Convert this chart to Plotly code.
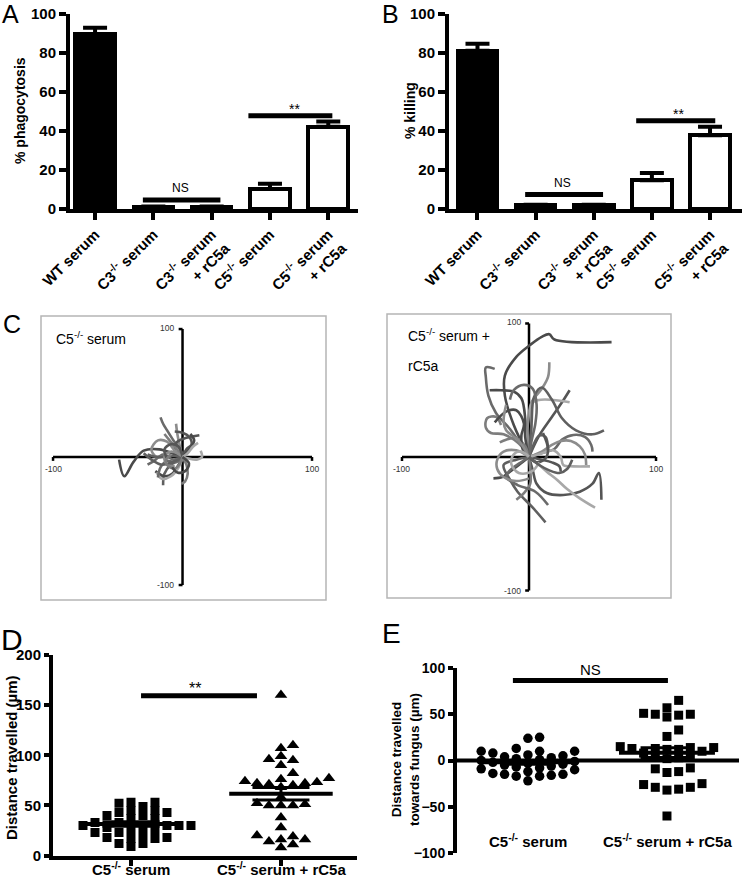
import numpy as np
import plotly.graph_objects as go

W, H = 742, 878
FONT = "Liberation Sans"

# ---------------- data ----------------
ab_labels = ["WT serum", "C3<sup>-/-</sup> serum", "C3<sup>-/-</sup> serum<br>+ rC5a",
             "C5<sup>-/-</sup> serum", "C5<sup>-/-</sup> serum<br>+ rC5a"]
phago_mean = [89.5, 1.0, 1.0, 10.3, 42.2]
phago_sem = [3.5, 0.3, 0.3, 2.6, 2.7]
kill_mean = [81.2, 1.8, 1.8, 14.8, 37.8]
kill_sem = [3.6, 0.4, 0.4, 3.6, 4.4]

c5_tracks = [
    [(0, 0), (-8, 3), (-18, 6), (-30, 5), (-38, -4), (-45, -15), (-49, -2)],
    [(0, 0), (-2, 6), (-7, 13), (-12, 21), (-15, 26), (-17, 31)],
    [(0, 0), (-2, 8), (-4, 18), (-5, 26)],
    [(0, 0), (-6, 5), (-4, 12), (3, 15), (13, 17)],
    [(0, 0), (4, -1), (11, -2), (15, 0), (14, 5)],
    [(0, 0), (-4, -3), (-9, -6), (-14, -13), (-15, -22)],
    [(0, 0), (3, -6), (4, -13), (2, -19), (-1, -21)],
    [(0, 0), (-3, -6), (-8, -13), (-14, -15), (-21, -11)],
    [(0, 0), (-7, -2), (-15, 2), (-22, -3), (-27, -6)],
    [(0, 0), (-6, 5), (-12, 12), (-19, 13), (-24, 6), (-20, 0), (-12, 2)],
    [(0, 0), (3, 6), (7, 10), (5, 16), (0, 19), (-6, 20)],
    [(0, 0), (-3, -8), (-9, -15), (-16, -17), (-20, -12)],
    [(0, 0), (-10, 1), (-20, 0), (-27, 2)],
    [(0, 0), (-5, 7), (-10, 13), (-14, 18)],
    [(0, 0), (6, 7), (9, 13), (6, 18)],
    [(0, 0), (-5, -4), (-12, -3), (-17, -8), (-19, -16)],
    [(0, 0), (-4, 3), (-10, 4), (-14, 0), (-12, -6), (-6, -7)],
    [(0, 0), (-3, 8), (-9, 10), (-14, 6), (-12, -1)],
    [(0, 0), (4, 3), (8, 8), (12, 11)],
    [(0, 0), (-8, -4), (-16, -6), (-24, -2), (-30, 3)],
    [(0, 0), (-2, -5), (-6, -9), (-11, -7), (-13, -3), (-9, 2)],
    [(0, 0), (5, -5), (2, -11), (-4, -12), (-8, -8)],
]

rc5a_tracks = [
    [(0, 0), (-12, 24), (-19, 46), (-19, 61), (-10, 75), (1, 84), (10, 90), (16, 92), (20, 88), (65, 86)],
    [(0, 0), (-15, 21), (-26, 33), (-32, 46), (-34, 60), (-34, 67), (-27, 66)],
    [(0, 0), (-1, 24), (2, 41), (10, 51), (15, 60), (16, 71)],
    [(0, 0), (8, 16), (18, 30), (26, 41), (32, 50)],
    [(0, 0), (2, 20), (3, 41), (32, 41)],
    [(0, 0), (2, 25), (4, 45), (10, 52), (18, 43), (26, 29), (37, 20), (50, 17), (59, 20)],
    [(0, 0), (-8, 10), (-20, 17), (-30, 18), (-34, 22), (-33, 29), (-26, 30), (-22, 24)],
    [(0, 0), (-3, 15), (-3, 29), (-6, 44), (-12, 49), (-22, 50), (-31, 50)],
    [(0, 0), (10, 3), (20, 6), (26, 13), (35, 16.5), (44, 15), (49, 9), (50, 4)],
    [(0, 0), (10, 4), (18, 9), (25, 12), (33, 12), (40, 8), (44, 2), (45, -6)],
    [(0, 0), (3, -10), (6, -20), (14, -27), (27, -28.5), (40, -26), (50, -20), (55, -12), (57, -32)],
    [(0, 0), (7, -5), (14, -11), (22, -17), (30, -24), (40, -31), (52, -38)],
    [(0, 0), (-10, -2), (-20, -6), (-15, -17), (-9, -26), (3, -38), (13, -49)],
    [(0, 0), (1, -10), (1, -20), (-4, -27), (-10, -32)],
    [(0, 0), (-8, -6), (-15, -11), (-21, -15), (-28, -16)],
    [(0, 0), (-8, -5), (-15, -10), (-18, -15), (-9, -21), (5, -26), (15, -36)],
    [(0, 0), (-10, 5), (-20, 4), (-25, -2), (-25, -9), (-20, -15), (-10, -18), (0, -16)],
    [(0, 0), (10, -2), (18, -4), (24, -7), (25, -11)],
    [(0, 0), (8, 2), (19, 5), (25, 0), (27, -6), (35, -7), (48, -7)],
    [(0, 0), (3, 8), (8, 16), (13, 15), (15, 5)],
    [(0, 0), (-3, 8), (-10, 14), (-18, 13), (-23, 11)],
    [(0, 0), (-5, 6), (-6, 16), (-4, 25), (-10, 35), (-18, 34), (-27, 26)],
    [(0, 0), (2, 12), (5, 25), (6, 39), (3, 51), (-4, 54), (-12, 50), (-15, 43)],
    [(0, 0), (-8, 12), (-18, 20), (-20, 27), (-18, 39)],
    [(0, 0), (6, -4), (13, -1), (15, 6), (11, 18)],
    [(0, 0), (-6, 4), (-12, 2), (-14, -5), (-8, -12), (2, -11), (8, -4)],
    [(0, 0), (8, -6), (16, -10), (24, -12), (30, -9), (34, -2)],
]

de_labels = ["C5<sup>-/-</sup> serum", "C5<sup>-/-</sup> serum + rC5a"]
dist_c5 = [53, 53, 52, 49, 45, 45, 43, 43, 40, 40, 37, 37, 33, 33, 30, 30, 30, 30, 30,
           28, 26, 26, 23, 23, 21, 18, 18, 17, 17, 12, 12, 9]
dist_rc5a = [160, 110, 107, 99, 96, 95, 90, 82, 77, 76, 74, 73, 72, 72, 71, 70, 68, 58,
             52, 51, 50, 50, 50, 38, 28, 20, 19, 16, 16, 14, 11, 8]
towards_c5 = [25, 24, 13, 10, 10, 10, 8, 6, 5, 4, 3, 2, 1, 0, -1, -2, -3, -4, -5, -6, -7,
              -8, -9, -10, -12, -14, -15, -15, -16, -17, -17, -22]
towards_rc5a = [65, 57, 50, 49, 47, 50, 51, 33, 26, 15, 14, 14, 13, 13, 12, 12, 10, 8, 5,
                4, 3, 2, -9, -13, -12, -8, -25, -29, -31, -32, -29, -26, -60]

# ---------------- helpers ----------------
def fx(p):
    return p / W


def fy(p):
    return 1 - p / H


def swarm(vals, px_per_unit, step, min_sep=7.5):
    order = np.argsort(vals, kind="stable")
    ks = [0] * len(vals)
    placed = {}
    cand = [0, 1, -1, 2, -2, 3, -3, 4, -4, 5, -5, 6, -6]
    for i in order:
        yp = vals[i] * px_per_unit
        for k in cand:
            if all(abs(yp - q) >= min_sep for q in placed.get(k, [])):
                placed.setdefault(k, []).append(yp)
                ks[i] = k
                break
    return np.array(ks) * step


fig = go.Figure()

# ---------------- A & B bars ----------------
bar_colors = ["black", "white", "white", "white", "white"]
for means, sems, xa, ya in [(phago_mean, phago_sem, "x", "y"), (kill_mean, kill_sem, "x2", "y2")]:
    fig.add_trace(go.Bar(
        x=list(range(len(means))), y=means, width=0.68,
        marker=dict(color=bar_colors, line=dict(color="black", width=4)),
        error_y=dict(type="data", array=sems, arrayminus=[0] * len(sems), symmetric=False,
                     thickness=4, width=12, color="black"),
        xaxis=xa, yaxis=ya, hoverinfo="skip"))

# ---------------- C tracks ----------------
track_grays = ["#4a4a4a", "#6a6a6a", "#8c8c8c", "#555555", "#a8a8a8", "#5f5f5f", "#7d7d7d"]
for tracks, xa, ya in [(c5_tracks, "x3", "y3"), (rc5a_tracks, "x4", "y4")]:
    for i, tr in enumerate(tracks):
        fig.add_trace(go.Scatter(
            x=[p[0] for p in tr], y=[p[1] for p in tr], mode="lines",
            line=dict(color=track_grays[i % len(track_grays)], width=2.6, shape="spline", smoothing=1.0),
            xaxis=xa, yaxis=ya, hoverinfo="skip"))

# ---------------- D & E scatter ----------------
def add_group(vals, cat, symbol, size, xa, ya, px_unit, step):
    offs = swarm(np.array(vals, dtype=float), px_unit, step)
    fig.add_trace(go.Scatter(
        x=cat + offs, y=vals, mode="markers",
        marker=dict(symbol=symbol, size=size, color="black", line=dict(width=0)),
        xaxis=xa, yaxis=ya, hoverinfo="skip"))
    m = float(np.mean(vals))
    s = float(np.std(vals, ddof=1) / np.sqrt(len(vals)))
    fig.add_trace(go.Scatter(x=[cat - 0.345, cat + 0.345], y=[m, m], mode="lines",
                             line=dict(color="black", width=4), xaxis=xa, yaxis=ya, hoverinfo="skip"))
    fig.add_trace(go.Scatter(
        x=[cat - 0.19, cat + 0.19, None, cat - 0.19, cat + 0.19, None, cat, cat],
        y=[m + s, m + s, None, m - s, m - s, None, m - s, m + s], mode="lines",
        line=dict(color="black", width=3), xaxis=xa, yaxis=ya, hoverinfo="skip"))


add_group(dist_c5, 0, "square", 9, "x5", "y5", 1.0, 0.08)
add_group(dist_rc5a, 1, "triangle-up", 11, "x5", "y5", 1.0, 0.08)
add_group(towards_c5, 0, "circle", 9.5, "x6", "y6", 0.925, 0.084)
add_group(towards_rc5a, 1, "square", 9, "x6", "y6", 0.925, 0.084)

# ---------------- axes ----------------
tickfont_b = dict(family=FONT, size=15, color="black", weight="bold")
ax_common = dict(showline=True, linewidth=4, linecolor="black", ticks="outside", ticklen=7,
                 tickwidth=4, tickcolor="black", showgrid=False, zeroline=False, tickfont=tickfont_b,
                 automargin=False)
ax_short = {k: v for k, v in ax_common.items() if k not in ("ticklen", "tickfont")}
hidden = dict(visible=False, showgrid=False, zeroline=False, automargin=False)

layout = dict(
    template="none",
    width=W, height=H, margin=dict(l=0, r=0, t=0, b=0, pad=0, autoexpand=False),
    paper_bgcolor="white", plot_bgcolor="white", showlegend=False,
    font=dict(family=FONT, color="black"), bargap=0,
    xaxis=dict(domain=[fx(70), fx(358)], range=[-0.43, 4.51], tickvals=list(range(5)),
               ticktext=ab_labels, tickangle=-45, anchor="y", **ax_common),
    yaxis=dict(domain=[fy(209), fy(14)], range=[0, 100], tickvals=[0, 20, 40, 60, 80, 100],
               anchor="x", **ax_common),
    xaxis2=dict(domain=[fx(449), 1.0], range=[-0.49, 4.55], tickvals=list(range(5)),
                ticktext=ab_labels, tickangle=-45, anchor="y2", **ax_common),
    yaxis2=dict(domain=[fy(209), fy(14)], range=[0, 100], tickvals=[0, 20, 40, 60, 80, 100],
                anchor="x2", **ax_common),
    xaxis3=dict(domain=[fx(41), fx(326)], range=[-109.3, 110.8], anchor="y3", **hidden),
    yaxis3=dict(domain=[fy(600), fy(316)], range=[-111.7, 110.2], anchor="x3", **hidden),
    xaxis4=dict(domain=[fx(387), fx(671)], range=[-111.8, 111.8], anchor="y4", **hidden),
    yaxis4=dict(domain=[fy(598), fy(314)], range=[-105.6, 107.1], anchor="x4", **hidden),
    xaxis5=dict(domain=[fx(53), fx(357)], range=[-0.52, 1.507], tickvals=[0, 1],
                showticklabels=False, anchor="y5", ticklen=6, **ax_short),
    yaxis5=dict(domain=[fy(855.5), fy(655)], range=[0, 200], tickvals=[0, 50, 100, 150, 200],
                anchor="x5", ticklen=5, tickfont=tickfont_b, **ax_short),
    xaxis6=dict(domain=[fx(457), fx(739)], range=[-0.51, 1.518], anchor="y6", **hidden),
    yaxis6=dict(domain=[fy(853), fy(668)], range=[-100, 100], tickvals=[-100, -50, 0, 50, 100],
                anchor="x6", ticklen=5, tickfont=dict(family=FONT, size=14, color="black", weight="bold"),
                **ax_short),
)

shapes = []
# significance bars
for xa, ya, x0, x1, yv in [("x", "y", 0.82, 2.15, 4.6), ("x", "y", 2.63, 4.07, 47.8),
                           ("x2", "y2", 0.82, 2.16, 7.5), ("x2", "y2", 2.73, 4.09, 45.3),
                           ("x5", "y5", 0.067, 0.84, 159.3), ("x6", "y6", -0.108, 1.007, 86.5)]:
    shapes.append(dict(type="line", xref=xa, yref=ya, x0=x0, x1=x1, y0=yv, y1=yv,
                       line=dict(color="black", width=5)))
# C boxes
for x0, x1, y0, y1 in [(41, 326, 316, 600), (387, 671, 314, 598)]:
    shapes.append(dict(type="rect", xref="paper", yref="paper", x0=fx(x0), x1=fx(x1),
                       y0=fy(y1), y1=fy(y0), line=dict(color="#b5b5b5", width=1.5), layer="below"))
# C cross axes and end ticks
for xa, ya in [("x3", "y3"), ("x4", "y4")]:
    for (a0, b0, a1, b1) in [(-100, 0, 100, 0), (0, -100, 0, 100),
                             (-100, 0, -100, -3), (100, 0, 100, -3),
                             (0, 100, -3, 100), (0, -100, -3, -100)]:
        shapes.append(dict(type="line", xref=xa, yref=ya, x0=a0, y0=b0, x1=a1, y1=b1,
                           line=dict(color="black", width=2.5), layer="below"))
# E zero line
shapes.append(dict(type="line", xref="x6 domain", yref="y6", x0=0, x1=1, y0=0, y1=0,
                   line=dict(color="black", width=4), layer="below"))
layout["shapes"] = shapes

ann = []


def txt(x, y, text, size, bold=False, angle=0, xanchor="center", yanchor="middle", xref="paper", yref="paper",
        color="black", align="center"):
    if xref == "paper":
        x = fx(x)
    if yref == "paper":
        y = fy(y)
    ann.append(dict(x=x, y=y, xref=xref, yref=yref, text=text, showarrow=False, textangle=angle,
                    xanchor=xanchor, yanchor=yanchor, align=align,
                    font=dict(family=FONT, size=size, color=color, weight="bold" if bold else "normal")))


# panel letters
txt(0, 14, "A", 25, xanchor="left")
txt(380, 14, "B", 25, xanchor="left")
txt(1, 324, "C", 25, xanchor="left")
txt(-1, 639, "D", 30, xanchor="left")
txt(380, 633, "E", 28, xanchor="left")
# axis titles
txt(20, 111, "% phagocytosis", 14, bold=True, angle=-90)
txt(410, 111, "% killing", 14, bold=True, angle=-90)
txt(11, 758, "Distance travelled (µm)", 15, bold=True, angle=-90)
txt(405, 760, "Distance travelled<br>towards fungus (µm)", 13.5, bold=True, angle=-90)
# significance labels
txt(180, 188, "NS", 12)
txt(294, 109, "**", 14)
txt(562, 183, "NS", 12)
txt(678, 114, "**", 14)
txt(195, 688, "**", 16)
txt(590, 669, "NS", 15)
# D / E category labels
txt(131, 868, de_labels[0], 15, bold=True)
txt(281, 868, de_labels[1], 15, bold=True)
txt(528, 840, de_labels[0], 15, bold=True)
txt(667, 840, de_labels[1], 15, bold=True)
# C labels
txt(54, 338, "C5<sup>-/-</sup> serum", 14, xanchor="left")
txt(406, 335, "C5<sup>-/-</sup> serum +", 14, xanchor="left")
txt(406, 366, "rC5a", 14, xanchor="left")
for xa, ya in [("x3", "y3"), ("x4", "y4")]:
    txt(-100, -9, "-100", 8.5, xref=xa, yref=ya, color="#333333")
    txt(100, -9, "100", 8.5, xref=xa, yref=ya, color="#333333")
    txt(-5, 101, "100", 8.5, xref=xa, yref=ya, xanchor="right", color="#333333")
    txt(-5, -100, "-100", 8.5, xref=xa, yref=ya, xanchor="right", color="#333333")
layout["annotations"] = ann

fig.update_layout(**layout)
fig.write_html("out.html", config={"displayModeBar": False},
               post_script="document.body.style.margin='0px';document.body.style.overflow='hidden';")
